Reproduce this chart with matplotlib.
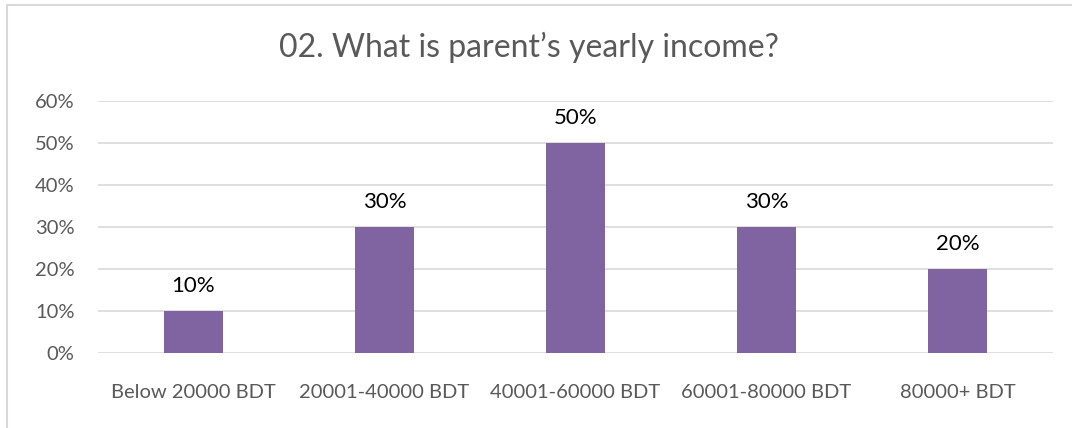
import matplotlib
matplotlib.use("Agg")
import matplotlib.pyplot as plt
from matplotlib.patches import Rectangle

categories = ["Below 20000 BDT", "20001-40000 BDT", "40001-60000 BDT", "60001-80000 BDT", "80000+ BDT"]
values = [10, 30, 50, 30, 20]
yticks = [0, 10, 20, 30, 40, 50, 60]
title = "02. What is parent\u2019s yearly income?"

plt.rcParams['font.family'] = ['Lato', 'DejaVu Sans']

W, H = 1072, 428
fig = plt.figure(figsize=(W / 100, H / 100), dpi=100)
# plot area in pixels: x 98..1053, y 101..353
ax = fig.add_axes([98 / W, 1 - 353 / H, (1053 - 98) / W, (353 - 101) / H])

x = list(range(len(categories)))
bars = ax.bar(x, values, width=0.314, color="#8064A2", zorder=3)
ax.set_xlim(-0.5, len(categories) - 0.5)
ax.set_ylim(0, 60)
ax.set_yticks(yticks)
ax.set_yticklabels([f"{v}%" for v in yticks], color="#595959", fontsize=14.5)
ax.set_xticks(x)
ax.set_xticklabels(categories, color="#595959", fontsize=14.5)
ax.tick_params(axis="both", length=0)
ax.tick_params(axis="y", pad=17)
ax.tick_params(axis="x", pad=22)
ax.grid(axis="y", color="#D9D9D9", linewidth=1.2, zorder=0)
for s in ax.spines.values():
    s.set_visible(False)

for xi, v in zip(x, values):
    ax.annotate(f"{v}%", (xi, v), xytext=(0, 18), textcoords="offset points",
                ha="center", va="center", fontsize=16, color="black")

fig.text(0.5 * (282 + 775) / W, 1 - 47 / H, title, ha="center", va="center",
         fontsize=23, color="#595959")

fig.patches.append(Rectangle((6.5 / W, -0.1), 1.2, 1 - 5.5 / H + 0.1,
                             transform=fig.transFigure, fill=False,
                             edgecolor="#D9D9D9", linewidth=1.5))

fig.savefig("out.png", dpi=100, facecolor="white")
